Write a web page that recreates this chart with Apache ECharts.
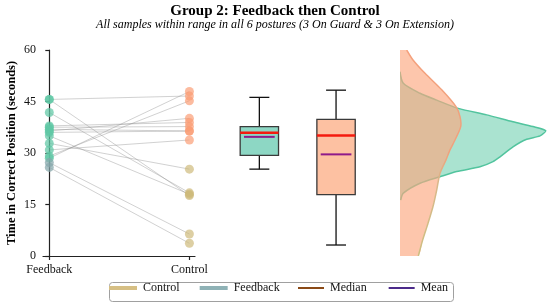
<!DOCTYPE html>
<html>
<head>
<meta charset="utf-8">
<script src="https://cdn.jsdelivr.net/npm/echarts@6/dist/echarts.min.js"></script>
<style>
html,body{margin:0;padding:0;background:#fff;}
#chart{width:550px;height:305px;}
</style>
</head>
<body>
<div id="chart"></div>
<script>
// ---- data ----
const categories = ['Feedback', 'Control'];
const yTicks = [0, 15, 30, 45, 60];
// paired samples (same index = same subject)
const feedbackValues = [45.6, 45.6, 41.8, 37.9, 37.5, 36.9, 36.4, 36.0, 35.0, 32.8, 30.9, 29.1, 28.5, 27.2, 25.8];
const controlValues  = [46.6, 17.6, 18.4, 38.9, 37.7, 36.4, 40.1, 36.4, 18.0, 25.3, 33.8, 45.2, 47.9, 6.4, 3.7];
// box statistics: [min, q1, median, q3, max]
const boxFeedback = [25.3, 29.3, 35.9, 37.7, 46.2];
const boxControl  = [3.2, 17.9, 35.1, 39.8, 48.3];
const meanFeedback = 34.7;
const meanControl = 29.6;
// density profiles (time value, relative density width)
const feedbackDensityY = [53.7, 50.3, 47.4, 45.4, 43.0, 41.1, 39.1, 37.7, 36.5, 35.0, 34.0, 31.8, 28.9, 27.5, 26.0, 24.6, 23.1, 21.2, 18.3, 16.3];
const feedbackDensityX = [0, 3.3, 20, 36.7, 58.3, 86.7, 113, 133, 145.7, 140, 126.7, 113, 100, 93, 80, 56.7, 40, 20, 3.3, 0.7];
const controlDensityY = [60, 57.1, 53.2, 48.4, 43.5, 40.6, 37.7, 33.8, 30.9, 28.0, 24.1, 19.2, 14.4, 9.5, 4.7, 0];
const controlDensityX = [6.7, 13, 25, 41.7, 56, 60, 60.7, 55, 50, 46, 40, 36.7, 33, 28, 22.7, 18.3];
const legendNames = ['Control', 'Feedback', 'Median', 'Mean'];

// ---- styling ----
const SERIF = 'Liberation Serif, Times New Roman, serif';
const C = {
  teal: 'rgba(95,200,165,0.9)', tealGray: 'rgba(135,168,172,0.9)',
  orange: 'rgba(250,155,115,0.85)', tan: 'rgba(205,185,120,0.85)',
  boxTeal: '#8dd7c4', boxOrange: '#fdc1a2',
  legControl: '#d6bf84', legFeedback: '#8fb2b6', legMedian: '#8b4a17', legMean: '#4b2a8a'
};

const chart = echarts.init(document.getElementById('chart'), null, {renderer: 'canvas'});

const gridTop = 50, gridHeight = 206;

function densitySeries(ys, xs, fill, stroke) {
  return {
    type: 'custom', xAxisIndex: 2, yAxisIndex: 2, clip: true,
    data: ys.map((y, i) => [xs[i], y]),
    renderItem: function (params, api) {
      if (params.dataIndex !== 0) return null;
      const n = ys.length;
      const edge = [];
      for (let i = 0; i < n; i++) edge.push(api.coord([xs[i], ys[i]]));
      const poly = [api.coord([0, ys[0]])].concat(edge, [api.coord([0, ys[n - 1]])]);
      return {
        type: 'group',
        children: [
          {type: 'polygon', shape: {points: poly, smooth: 0.25}, style: {fill: fill, stroke: null}},
          {type: 'polyline', shape: {points: edge, smooth: 0.25}, style: {fill: null, stroke: stroke, lineWidth: 1.5}}
        ]
      };
    }
  };
}

const option = {
  animation: false,
  textStyle: {fontFamily: SERIF},
  graphic: [
    {type: 'text', left: 'center', top: 4, style: {text: 'Group 2: Feedback then Control', font: 'bold 15px ' + SERIF, fill: '#000'}, x: -10},
    {type: 'text', left: 'center', top: 19, style: {text: 'All samples within range in all 6 postures (3 On Guard & 3 On Extension)', font: 'italic 12px ' + SERIF, fill: '#000'}, x: -10},
    {type: 'rect', left: 107, top: 280, shape: {width: 344, height: 19, r: 3}, style: {fill: 'none', stroke: '#a0a0a0', lineWidth: 1}}
  ],
  legend: [
    {
      data: legendNames.slice(0, 2).map(n => ({name: n, icon: 'rect'})),
      left: 109, top: 282, itemWidth: 28, itemHeight: 4, itemGap: 20, padding: 0,
      textStyle: {fontFamily: SERIF, fontSize: 12, color: '#111', padding: [0, 0, 0, 1]},
      selectedMode: false
    },
    {
      data: legendNames.slice(2).map(n => ({name: n, icon: 'rect'})),
      left: 298, top: 282, itemWidth: 26, itemHeight: 2, itemGap: 22, padding: 0,
      textStyle: {fontFamily: SERIF, fontSize: 12, color: '#111', padding: [0, 0, 0, 1]},
      selectedMode: false
    }
  ],
  grid: [
    {left: 43, width: 152, top: gridTop, height: gridHeight},
    {left: 221, width: 153.4, top: gridTop, height: gridHeight},
    {left: 400, width: 150, top: gridTop, height: gridHeight}
  ],
  xAxis: [
    {
      gridIndex: 0, type: 'value', min: -0.045, max: 1.04,
      axisLine: {show: true, lineStyle: {color: '#222', width: 1.2}},
      axisTick: {show: true, length: 4, customValues: [0, 1], lineStyle: {color: '#222', width: 1.2}},
      axisLabel: {customValues: [0, 1], formatter: v => categories[Math.round(v)], fontFamily: SERIF, fontSize: 12, color: '#111', margin: 8},
      splitLine: {show: false}
    },
    {gridIndex: 1, type: 'category', data: categories, show: false},
    {gridIndex: 2, type: 'value', min: 0, max: 150, show: false}
  ],
  yAxis: [
    {
      gridIndex: 0, type: 'value', min: yTicks[0], max: yTicks[yTicks.length - 1], interval: 15,
      name: 'Time in Correct Position (seconds)', nameLocation: 'middle', nameGap: 25,
      nameTextStyle: {fontFamily: SERIF, fontSize: 12.5, fontWeight: 'bold', color: '#000'},
      axisLine: {show: true, lineStyle: {color: '#222', width: 1.2}},
      axisTick: {show: true, length: 4, lineStyle: {color: '#222', width: 1.2}},
      axisLabel: {fontFamily: SERIF, fontSize: 12, color: '#111', margin: 7},
      splitLine: {show: false}
    },
    {gridIndex: 1, type: 'value', min: 0, max: 60, show: false},
    {gridIndex: 2, type: 'value', min: 0, max: 60, show: false}
  ],
  series: [
    // connecting lines
    {
      type: 'custom', xAxisIndex: 0, yAxisIndex: 0,
      data: feedbackValues.map((f, i) => [f, controlValues[i]]),
      renderItem: function (params, api) {
        const p1 = api.coord([0, api.value(0)]);
        const p2 = api.coord([1, api.value(1)]);
        return {type: 'line', shape: {x1: p1[0], y1: p1[1], x2: p2[0], y2: p2[1]},
          style: {stroke: 'rgba(140,140,140,0.5)', lineWidth: 0.8}};
      },
      z: 1
    },
    {
      type: 'scatter', xAxisIndex: 0, yAxisIndex: 0, symbolSize: 9, z: 3,
      data: feedbackValues.map(v => ({value: [0, v], itemStyle: {color: v < 28 ? C.tealGray : C.teal}}))
    },
    {
      type: 'scatter', xAxisIndex: 0, yAxisIndex: 0, symbolSize: 9, z: 3,
      data: controlValues.map(v => ({value: [1, v], itemStyle: {color: v < 30 ? C.tan : C.orange}}))
    },
    // box plots
    {
      type: 'custom', xAxisIndex: 1, yAxisIndex: 1,
      data: [[0].concat(boxFeedback, [meanFeedback]), [1].concat(boxControl, [meanControl])],
      renderItem: function (params, api) {
        const i = api.value(0);
        const band = api.size([1, 0])[0];
        const half = band * 0.25, cap = band * 0.13, mh = band * 0.2;
        const pMin = api.coord([i, api.value(1)]);
        const pQ1 = api.coord([i, api.value(2)]);
        const pMed = api.coord([i, api.value(3)]);
        const pQ3 = api.coord([i, api.value(4)]);
        const pMax = api.coord([i, api.value(5)]);
        const pMean = api.coord([i, api.value(6)]);
        const cx = pMed[0];
        const blk = {stroke: '#111', lineWidth: 1.3};
        return {
          type: 'group',
          children: [
            {type: 'line', shape: {x1: cx, y1: pQ1[1], x2: cx, y2: pMin[1]}, style: blk},
            {type: 'line', shape: {x1: cx, y1: pQ3[1], x2: cx, y2: pMax[1]}, style: blk},
            {type: 'line', shape: {x1: cx - cap, y1: pMin[1], x2: cx + cap, y2: pMin[1]}, style: blk},
            {type: 'line', shape: {x1: cx - cap, y1: pMax[1], x2: cx + cap, y2: pMax[1]}, style: blk},
            {type: 'rect', shape: {x: cx - half, y: pQ3[1], width: half * 2, height: pQ1[1] - pQ3[1]},
              style: {fill: i === 0 ? C.boxTeal : C.boxOrange, stroke: '#3a3a3a', lineWidth: 1.3}},
            {type: 'line', shape: {x1: cx - half, y1: pMed[1], x2: cx + half, y2: pMed[1]}, style: {stroke: '#f41a0e', lineWidth: 2.6}},
            {type: 'line', shape: {x1: cx - mh, y1: pMean[1], x2: cx + mh, y2: pMean[1]}, style: {stroke: '#8e1a8a', lineWidth: 2}}
          ]
        };
      }
    },
    // densities
    densitySeries(feedbackDensityY, feedbackDensityX, 'rgba(85,200,162,0.5)', '#52c49e'),
    densitySeries(controlDensityY, controlDensityX, 'rgba(252,168,128,0.65)',
      new echarts.graphic.LinearGradient(0, 0, 0, 1, [
        {offset: 0, color: '#f5a07c'}, {offset: 0.5, color: '#eea27e'}, {offset: 0.65, color: '#d8b88a'}, {offset: 1, color: '#cbbf80'}
      ], false)),
    // legend entries
    {name: 'Control', type: 'line', data: [], color: C.legControl},
    {name: 'Feedback', type: 'line', data: [], color: C.legFeedback},
    {name: 'Median', type: 'line', data: [], color: C.legMedian},
    {name: 'Mean', type: 'line', data: [], color: C.legMean}
  ]
};
chart.setOption(option);
</script>
</body>
</html>
